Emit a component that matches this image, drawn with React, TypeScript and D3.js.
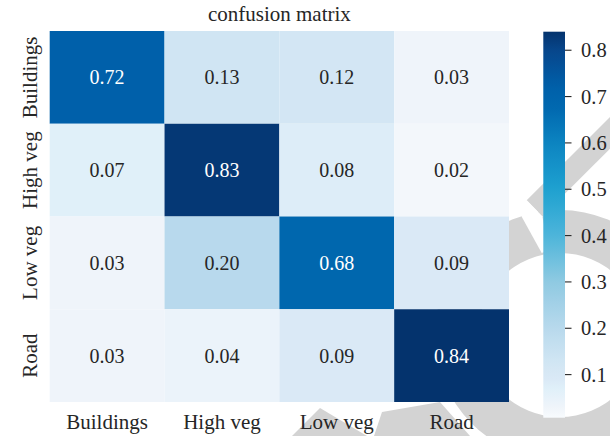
import React from "react";
import * as d3 from "d3";

// Class names shared by both axes
const classNames = ["Buildings", "High veg", "Low veg", "Road"];

// Row-normalised confusion matrix, one array per true class
const buildingsRow = [0.72, 0.13, 0.12, 0.03];
const highVegRow = [0.07, 0.83, 0.08, 0.02];
const lowVegRow = [0.03, 0.2, 0.68, 0.09];
const roadRow = [0.03, 0.04, 0.09, 0.84];
const matrixRows = [buildingsRow, highVegRow, lowVegRow, roadRow];

// Colour bar
const colorbarTicks = [0.1, 0.2, 0.3, 0.4, 0.5, 0.6, 0.7, 0.8];
const colorbarRange = [0.007, 0.84];

const W = 610;
const H = 436;
const FONT = "'Liberation Serif', 'Times New Roman', serif";

// Blue ramp with a cyan middle
const rampStops = [0, 0.02, 0.03, 0.05, 0.07, 0.09, 0.13, 0.2, 0.3, 0.4, 0.5, 0.6, 0.68, 0.72, 0.8, 0.84];
const rampColors = [
  "#fbfdff", "#f3f7fb", "#eff4fa", "#e7f2fa", "#e0f0f9", "#dae9f6", "#d0e5f3", "#b8d9ed",
  "#8fcae2", "#4db5da", "#1ea1d0", "#0c84c1", "#0067ae", "#0060aa", "#07468b", "#04336d",
];

export default function App() {
  const color = d3
    .scaleLinear<string>()
    .domain(rampStops)
    .range(rampColors)
    .interpolate(d3.interpolateRgb)
    .clamp(true);

  const x = d3.scaleBand().domain(classNames).range([49.7, 509]).padding(0);
  const y = d3.scaleBand().domain(classNames).range([31, 402]).padding(0);

  const cbX0 = 543.3;
  const cbX1 = 565;
  const cbY = d3.scaleLinear().domain(colorbarRange).range([417.7, 31.7]);
  const gradSteps = d3.range(0, 41).map((i) => i / 40);

  const cells = matrixRows.flatMap((row, ri) =>
    row.map((v, ci) => ({ row: classNames[ri], col: classNames[ci], v }))
  );

  const gray = "#d3d3d3";
  // Background emblem: ring with a diagonal bar
  const ringCx = 560;
  const ringCy = 335;
  const ringOuter = 125;
  const ringInner = 82;
  const ringPath =
    `M ${ringCx - ringOuter} ${ringCy} a ${ringOuter} ${ringOuter} 0 1 0 ${2 * ringOuter} 0 a ${ringOuter} ${ringOuter} 0 1 0 ${-2 * ringOuter} 0 Z ` +
    `M ${ringCx - ringInner} ${ringCy} a ${ringInner} ${ringInner} 0 1 0 ${2 * ringInner} 0 a ${ringInner} ${ringInner} 0 1 0 ${-2 * ringInner} 0 Z`;

  return (
    <svg width={W} height={H} style={{ display: "block", position: "absolute", left: 0, top: 0 }}>
      <defs>
        <linearGradient id="cbGrad" x1="0" y1="1" x2="0" y2="0">
          {gradSteps.map((t) => (
            <stop
              key={t}
              offset={t}
              stopColor={color(colorbarRange[0] + t * (colorbarRange[1] - colorbarRange[0]))}
            />
          ))}
        </linearGradient>
      </defs>
      <rect width={W} height={H} fill="#ffffff" />

      {/* emblem */}
      <g fill={gray}>
        <path d={ringPath} fillRule="evenodd" />
        <polygon points="640,87 526.7,200.3 542.35,216.35 640,118.7" />
        <polygon points="292,436 320,408 367,436" />
        <polygon points="374,436 382,412 440,402 470,436" />
      </g>
      <polygon points="521.7,216.7 541.7,253 549,250 542.35,216.35 526.7,200.3" fill="#ffffff" />

      {/* heatmap cells */}
      <g>
        {cells.map((c) => (
          <rect
            key={c.row + c.col}
            x={x(c.col)}
            y={y(c.row)}
            width={x.bandwidth()}
            height={y.bandwidth()}
            fill={color(c.v)}
          />
        ))}
      </g>
      <g fontFamily={FONT} fontSize={20} textAnchor="middle">
        {cells.map((c) => (
          <text
            key={"t" + c.row + c.col}
            x={(x(c.col) as number) + x.bandwidth() / 2}
            y={(y(c.row) as number) + y.bandwidth() / 2}
            dy="0.35em"
            fill={c.v > 0.5 ? "#ffffff" : "#262626"}
          >
            {c.v.toFixed(2)}
          </text>
        ))}
      </g>

      {/* title */}
      <text x={279.4} y={20.5} fontFamily={FONT} fontSize={21} textAnchor="middle" fill="#262626">
        confusion matrix
      </text>

      {/* x axis labels */}
      <g fontFamily={FONT} fontSize={21} textAnchor="middle" fill="#262626">
        {classNames.map((n) => (
          <text key={"x" + n} x={(x(n) as number) + x.bandwidth() / 2} y={428.5}>
            {n}
          </text>
        ))}
      </g>

      {/* y axis labels */}
      <g fontFamily={FONT} fontSize={21} textAnchor="middle" fill="#262626">
        {classNames.map((n) => {
          const cy = (y(n) as number) + y.bandwidth() / 2;
          return (
            <text key={"y" + n} transform={`translate(37,${cy}) rotate(-90)`}>
              {n}
            </text>
          );
        })}
      </g>

      {/* colour bar */}
      <rect x={cbX0} y={cbY(colorbarRange[1])} width={cbX1 - cbX0} height={cbY(colorbarRange[0]) - cbY(colorbarRange[1])} fill="url(#cbGrad)" />
      <g fontFamily={FONT} fontSize={20.5} fill="#262626">
        {colorbarTicks.map((t) => (
          <g key={"cb" + t} transform={`translate(0,${cbY(t)})`}>
            <line x1={cbX1} x2={cbX1 + 6.5} stroke="#262626" strokeWidth={1.1} />
            <text x={581} dy="0.35em">
              {t.toFixed(1)}
            </text>
          </g>
        ))}
      </g>
    </svg>
  );
}
